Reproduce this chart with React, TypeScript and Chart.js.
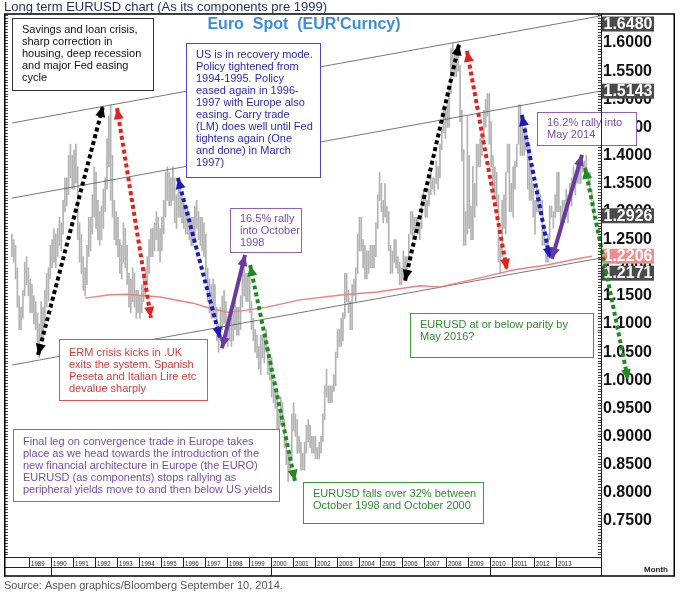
import { useEffect, useRef } from "react";
import { Chart, registerables } from "chart.js";

Chart.register(...registerables);

const FONT = '"Liberation Sans", Arial, Helvetica, sans-serif';

// monthly high/low bars, the first one is March 1988
const firstBarYear = 1988;
const firstBarMonth = 2;

const monthlyHigh = [
  /* 1988 */ 1.26, 1.25, 1.24, 1.2, 1.15, 1.13, 1.16, 1.21, 1.22, 1.2,
  /* 1989 */ 1.18, 1.17, 1.15, 1.14, 1.12, 1.1, 1.14, 1.13, 1.16, 1.19, 1.2, 1.24,
  /* 1990 */ 1.25, 1.27, 1.26, 1.27, 1.29, 1.28, 1.32, 1.36, 1.36, 1.4, 1.42, 1.4,
  /* 1991 */ 1.41, 1.42, 1.38, 1.28, 1.26, 1.22, 1.2, 1.24, 1.29, 1.29, 1.33, 1.38,
  /* 1992 */ 1.37, 1.32, 1.3, 1.31, 1.34, 1.36, 1.43, 1.47, 1.49, 1.4, 1.32, 1.3,
  /* 1993 */ 1.29, 1.25, 1.24, 1.28, 1.27, 1.24, 1.19, 1.18, 1.2, 1.19, 1.16, 1.16,
  /* 1994 */ 1.15, 1.17, 1.19, 1.2, 1.22, 1.25, 1.27, 1.27, 1.28, 1.3, 1.29, 1.27,
  /* 1995 */ 1.29, 1.32, 1.37, 1.38, 1.37, 1.36, 1.38, 1.36, 1.33, 1.35, 1.35, 1.33,
  /* 1996 */ 1.32, 1.31, 1.31, 1.3, 1.29, 1.29, 1.31, 1.32, 1.3, 1.29, 1.29, 1.28,
  /* 1997 */ 1.26, 1.2, 1.18, 1.17, 1.18, 1.17, 1.13, 1.1, 1.13, 1.15, 1.16, 1.14,
  /* 1998 */ 1.11, 1.11, 1.11, 1.12, 1.14, 1.13, 1.13, 1.15, 1.2, 1.22, 1.19, 1.19,
  /* 1999 */ 1.19, 1.14, 1.11, 1.09, 1.08, 1.06, 1.08, 1.08, 1.08, 1.09, 1.06, 1.04,
  /* 2000 */ 1.04, 1.0, 0.98, 0.98, 0.94, 0.97, 0.96, 0.93, 0.9, 0.87, 0.87, 0.94,
  /* 2001 */ 0.96, 0.94, 0.93, 0.9, 0.89, 0.87, 0.89, 0.92, 0.93, 0.92, 0.9, 0.9,
  /* 2002 */ 0.9, 0.88, 0.89, 0.9, 0.94, 0.99, 1.02, 0.99, 0.99, 0.99, 1.01, 1.05,
  /* 2003 */ 1.09, 1.09, 1.11, 1.12, 1.19, 1.19, 1.16, 1.14, 1.17, 1.18, 1.2, 1.26,
  /* 2004 */ 1.29, 1.29, 1.25, 1.24, 1.23, 1.23, 1.24, 1.24, 1.24, 1.28, 1.33, 1.37,
  /* 2005 */ 1.35, 1.32, 1.35, 1.31, 1.3, 1.24, 1.23, 1.25, 1.25, 1.22, 1.21, 1.2,
  /* 2006 */ 1.23, 1.22, 1.22, 1.26, 1.3, 1.3, 1.29, 1.29, 1.29, 1.28, 1.33, 1.34,
  /* 2007 */ 1.33, 1.32, 1.34, 1.37, 1.36, 1.36, 1.39, 1.38, 1.42, 1.45, 1.49, 1.48,
  /* 2008 */ 1.49, 1.52, 1.59, 1.6, 1.58, 1.58, 1.6, 1.56, 1.48, 1.41, 1.3, 1.47,
  /* 2009 */ 1.4, 1.31, 1.38, 1.35, 1.42, 1.42, 1.43, 1.44, 1.48, 1.5, 1.51, 1.51,
  /* 2010 */ 1.46, 1.4, 1.38, 1.37, 1.33, 1.24, 1.32, 1.33, 1.37, 1.42, 1.42, 1.35,
  /* 2011 */ 1.38, 1.39, 1.42, 1.49, 1.49, 1.46, 1.45, 1.45, 1.43, 1.42, 1.38, 1.35,
  /* 2012 */ 1.32, 1.35, 1.34, 1.33, 1.32, 1.27, 1.25, 1.26, 1.31, 1.31, 1.3, 1.33,
  /* 2013 */ 1.37, 1.37, 1.31, 1.32, 1.32, 1.34, 1.33, 1.35, 1.36, 1.38, 1.36, 1.39,
  /* 2014 */ 1.38, 1.38, 1.39, 1.39, 1.4, 1.37, 1.37, 1.34, 1.32,
];

const monthlyLow = [
  /* 1988 */ 1.22, 1.21, 1.18, 1.13, 1.09, 1.09, 1.11, 1.15, 1.17, 1.15,
  /* 1989 */ 1.12, 1.12, 1.1, 1.09, 1.06, 1.04, 1.07, 1.07, 1.1, 1.13, 1.14, 1.18,
  /* 1990 */ 1.2, 1.21, 1.2, 1.22, 1.24, 1.23, 1.26, 1.3, 1.31, 1.33, 1.36, 1.34,
  /* 1991 */ 1.34, 1.35, 1.25, 1.21, 1.19, 1.16, 1.15, 1.17, 1.22, 1.23, 1.26, 1.29,
  /* 1992 */ 1.27, 1.25, 1.24, 1.25, 1.27, 1.3, 1.34, 1.38, 1.32, 1.29, 1.25, 1.24,
  /* 1993 */ 1.22, 1.19, 1.18, 1.21, 1.2, 1.17, 1.13, 1.12, 1.14, 1.13, 1.11, 1.12,
  /* 1994 */ 1.11, 1.12, 1.14, 1.15, 1.17, 1.19, 1.22, 1.22, 1.23, 1.25, 1.23, 1.21,
  /* 1995 */ 1.23, 1.26, 1.29, 1.32, 1.31, 1.31, 1.32, 1.28, 1.27, 1.29, 1.29, 1.28,
  /* 1996 */ 1.27, 1.26, 1.26, 1.25, 1.24, 1.24, 1.25, 1.27, 1.25, 1.24, 1.23, 1.22,
  /* 1997 */ 1.18, 1.14, 1.12, 1.11, 1.12, 1.11, 1.07, 1.05, 1.07, 1.09, 1.1, 1.09,
  /* 1998 */ 1.06, 1.07, 1.06, 1.07, 1.09, 1.08, 1.08, 1.09, 1.13, 1.15, 1.14, 1.14,
  /* 1999 */ 1.12, 1.09, 1.07, 1.05, 1.04, 1.02, 1.01, 1.04, 1.03, 1.05, 1.01, 1.0,
  /* 2000 */ 0.97, 0.96, 0.95, 0.9, 0.89, 0.92, 0.92, 0.88, 0.85, 0.82, 0.84, 0.86,
  /* 2001 */ 0.91, 0.9, 0.87, 0.87, 0.84, 0.84, 0.84, 0.87, 0.89, 0.88, 0.87, 0.87,
  /* 2002 */ 0.86, 0.86, 0.86, 0.87, 0.89, 0.93, 0.97, 0.96, 0.96, 0.96, 0.98, 0.99,
  /* 2003 */ 1.04, 1.06, 1.06, 1.07, 1.11, 1.14, 1.12, 1.09, 1.09, 1.15, 1.14, 1.19,
  /* 2004 */ 1.23, 1.23, 1.2, 1.18, 1.18, 1.19, 1.2, 1.2, 1.2, 1.22, 1.27, 1.32,
  /* 2005 */ 1.3, 1.28, 1.29, 1.28, 1.23, 1.19, 1.19, 1.21, 1.2, 1.19, 1.17, 1.17,
  /* 2006 */ 1.18, 1.18, 1.19, 1.21, 1.26, 1.25, 1.25, 1.27, 1.26, 1.25, 1.27, 1.31,
  /* 2007 */ 1.29, 1.29, 1.31, 1.33, 1.34, 1.33, 1.35, 1.34, 1.36, 1.41, 1.44, 1.43,
  /* 2008 */ 1.45, 1.45, 1.51, 1.55, 1.54, 1.54, 1.55, 1.46, 1.39, 1.24, 1.24, 1.26,
  /* 2009 */ 1.27, 1.25, 1.25, 1.29, 1.31, 1.38, 1.38, 1.4, 1.42, 1.45, 1.47, 1.42,
  /* 2010 */ 1.38, 1.34, 1.33, 1.31, 1.21, 1.19, 1.22, 1.27, 1.26, 1.37, 1.3, 1.3,
  /* 2011 */ 1.29, 1.34, 1.38, 1.42, 1.4, 1.4, 1.4, 1.41, 1.34, 1.32, 1.32, 1.29,
  /* 2012 */ 1.26, 1.3, 1.3, 1.3, 1.24, 1.24, 1.21, 1.21, 1.25, 1.29, 1.27, 1.29,
  /* 2013 */ 1.3, 1.3, 1.28, 1.28, 1.28, 1.29, 1.28, 1.32, 1.31, 1.35, 1.33, 1.35,
  /* 2014 */ 1.35, 1.35, 1.37, 1.37, 1.36, 1.35, 1.34, 1.32, 1.29,
];

// long moving average (red line)
const maYears = [
  1991.54, 1992.68, 1993.45, 1994.96, 1996.46, 1997.23, 1998.01, 1998.6, 1999.83, 2001.33,
  2003.29, 2004.84, 2006.8, 2007.71, 2009.53, 2011.04, 2012.59, 2014.09, 2014.63,
];
const maValues = [
  1.146, 1.152, 1.153, 1.148, 1.137, 1.128, 1.121, 1.123, 1.13, 1.143,
  1.152, 1.157, 1.168, 1.166, 1.182, 1.196, 1.205, 1.217, 1.2206,
];

// trend channel: three parallel lines
const channelYears = [1988.21, 2015.0];
const channelTop = [1.4577, 1.648];
const channelMid = [1.324, 1.5143];
const channelLow = [1.027, 1.2171];

// double headed arrows [year, price]
const arrowFrom = [
  [1989.4, 1.045], [1993.0, 1.484], [1995.77, 1.36], [1997.78, 1.057], [1999.06, 1.205],
  [2006.12, 1.177], [2008.94, 1.586], [2011.44, 1.472], [2012.81, 1.216], [2014.32, 1.378],
];
const arrowTo = [
  [1992.36, 1.488], [1994.54, 1.111], [1997.69, 1.075], [1998.83, 1.223], [2001.1, 0.821],
  [2008.58, 1.598], [2010.76, 1.196], [2012.72, 1.216], [2014.18, 1.401], [2016.28, 1.0],
];

const priceTicks = [
  0.75, 0.8, 0.85, 0.9, 0.95, 1.0, 1.05, 1.1, 1.15, 1.2, 1.25, 1.3, 1.35, 1.4, 1.45, 1.5, 1.55, 1.6,
];
const tagValues = [1.648, 1.5143, 1.2926, 1.2206, 1.2171];

const yearLabels = [
  1989, 1990, 1991, 1992, 1993, 1994, 1995, 1996, 1997, 1998, 1999, 2000, 2001,
  2002, 2003, 2004, 2005, 2006, 2007, 2008, 2009, 2010, 2011, 2012, 2013,
];
const decadeMarks = [1990, 2000, 2010];

const noteTexts = [
  ["Savings and loan crisis,", "sharp correction in", "housing, deep recession", "and major Fed easing", "cycle"],
  [
    "US is in recovery mode.", "Policy tightened from", "1994-1995. Policy", "eased again in 1996-",
    "1997 with Europe also", "easing. Carry trade", "(LM) does well until Fed", "tightens again (One",
    "and done) in March", "1997)",
  ],
  ["16.2% rally into", "May 2014"],
  ["16.5% rally", "into October", "1998"],
  ["ERM crisis kicks in .UK", "exits the system. Spanish", "Peseta and Italian Lire etc", "devalue sharply"],
  [
    "Final leg on convergence trade in Europe takes",
    "place as we head towards the introduction of the",
    "new financial architecture in Europe (the EURO)",
    "EURUSD (as components) stops rallying as",
    "peripheral yields move to and then below US yields",
  ],
  ["EURUSD falls over 32% between", "October 1998 and October 2000"],
  ["EURUSD at or below parity by", "May 2016?"],
];

// styles
const arrowColors = [
  "#000000", "#e3221d", "#1c1cb8", "#6c3a9c", "#1f8a1f",
  "#000000", "#e3221d", "#1c1cb8", "#6c3a9c", "#1f8a1f",
];
const arrowDotted = [true, true, true, false, true, true, true, true, false, true];
const tagColors = ["#4a4a4a", "#4a4a4a", "#4a4a4a", "#f08c8c", "#4a4a4a"];
const tagNudge = [8, 0, 0, 0, 15];

const noteBoxes = [
  { x: 12, y: 18, w: 141, h: 72, top: 12, text: "#111111", border: "#333333" },
  { x: 186, y: 43, w: 134, h: 134, top: 12, text: "#2a2ab4", border: "#4848c0" },
  { x: 537, y: 112, w: 99, h: 33, top: 11, text: "#7a4ca4", border: "#8a66b0" },
  { x: 230, y: 208, w: 71, h: 44, top: 11, text: "#7a4ca4", border: "#8a66b0" },
  { x: 59, y: 339, w: 148, h: 61, top: 14, text: "#d43a3a", border: "#d65858" },
  { x: 13, y: 429, w: 266, h: 72, top: 13, text: "#7a4ca4", border: "#8a66b0" },
  { x: 303, y: 482, w: 180, h: 41, top: 12, text: "#2e8c2e", border: "#3d9a3d" },
  { x: 410, y: 313, w: 183, h: 44, top: 12, text: "#2e8c2e", border: "#3d9a3d" },
];

const chartDecor = {
  id: "chartDecor",
  beforeDraw(chart: Chart) {
    const { ctx, width, height } = chart;
    ctx.save();
    ctx.fillStyle = "#ffffff";
    ctx.fillRect(0, 0, width, height);
    ctx.restore();
  },
  beforeDatasetsDraw(chart: Chart) {
    const { ctx } = chart;
    const ys = chart.scales.y;
    ctx.save();
    ctx.font = `bold 16px ${FONT}`;
    ctx.textBaseline = "middle";
    ctx.textAlign = "left";
    tagValues.forEach((v, i) => {
      const cy = ys.getPixelForValue(v) + tagNudge[i];
      ctx.fillStyle = tagColors[i];
      ctx.fillRect(602, cy - 7.5, 52, 15);
      ctx.fillStyle = "#ffffff";
      ctx.fillText(v.toFixed(4), 603.5, cy + 0.5);
    });
    ctx.restore();
  },
  afterDatasetsDraw(chart: Chart) {
    const { ctx } = chart;
    const xs = chart.scales.x;
    const ys = chart.scales.y;
    ctx.save();
    arrowFrom.forEach((from, i) => {
      const a = { x: xs.getPixelForValue(from[0]), y: ys.getPixelForValue(from[1]) };
      const b = { x: xs.getPixelForValue(arrowTo[i][0]), y: ys.getPixelForValue(arrowTo[i][1]) };
      ctx.fillStyle = arrowColors[i];
      [
        [b, a],
        [a, b],
      ].forEach(([p, q]) => {
        const ang = Math.atan2(q.y - p.y, q.x - p.x);
        const len = 11;
        const half = 5;
        const bx = q.x - len * Math.cos(ang);
        const by = q.y - len * Math.sin(ang);
        ctx.beginPath();
        ctx.moveTo(q.x, q.y);
        ctx.lineTo(bx - half * Math.sin(ang), by + half * Math.cos(ang));
        ctx.lineTo(bx + half * Math.sin(ang), by - half * Math.cos(ang));
        ctx.closePath();
        ctx.fill();
      });
    });
    ctx.restore();
  },
  afterDraw(chart: Chart) {
    const { ctx, chartArea } = chart;
    const xs = chart.scales.x;
    const ys = chart.scales.y;
    ctx.save();

    // small ruler ticks on both price edges
    ctx.strokeStyle = "#444444";
    ctx.lineWidth = 1;
    for (let v = 0.69; v <= 1.65; v += 0.005) {
      const py = Math.round(ys.getPixelForValue(v)) + 0.5;
      ctx.beginPath();
      ctx.moveTo(chartArea.right - 2, py);
      ctx.lineTo(chartArea.right + 1, py);
      ctx.moveTo(5, py);
      ctx.lineTo(8, py);
      ctx.stroke();
    }

    // notes
    noteBoxes.forEach((n, i) => {
      ctx.fillStyle = "#ffffff";
      ctx.fillRect(n.x, n.y, n.w, n.h);
      ctx.strokeStyle = n.border;
      ctx.lineWidth = 1;
      ctx.strokeRect(n.x + 0.5, n.y + 0.5, n.w, n.h);
      ctx.fillStyle = n.text;
      ctx.font = `11px ${FONT}`;
      ctx.textBaseline = "middle";
      ctx.textAlign = "left";
      noteTexts[i].forEach((line, k) => ctx.fillText(line, n.x + 10, n.y + n.top + k * 12));
    });

    // chart title inside the frame
    ctx.fillStyle = "#3a8ddf";
    ctx.font = `bold 16px ${FONT}`;
    ctx.textAlign = "center";
    ctx.textBaseline = "middle";
    ctx.fillText("Euro  Spot  (EUR'Curncy)", 304, 25);

    // year strip
    const stripTop = chartArea.bottom;
    const stripMid = stripTop + 10;
    const frameBottom = 576;
    ctx.strokeStyle = "#222222";
    ctx.lineWidth = 1;
    ctx.beginPath();
    ctx.moveTo(5, stripTop + 0.5);
    ctx.lineTo(chartArea.right + 1, stripTop + 0.5);
    ctx.moveTo(5, stripMid + 0.5);
    ctx.lineTo(chartArea.right + 1, stripMid + 0.5);
    ctx.moveTo(chartArea.right + 1.5, 14);
    ctx.lineTo(chartArea.right + 1.5, frameBottom);
    ctx.stroke();

    ctx.fillStyle = "#222222";
    ctx.textAlign = "left";
    ctx.textBaseline = "alphabetic";
    ctx.font = `8px ${FONT}`;
    yearLabels.forEach((yr) => {
      const px = Math.round(xs.getPixelForValue(yr)) + 0.5;
      ctx.beginPath();
      ctx.moveTo(px, stripTop);
      ctx.lineTo(px, stripMid);
      ctx.stroke();
      ctx.save();
      ctx.translate(px + 1.5, stripTop + 8.5);
      ctx.scale(0.76, 1);
      ctx.fillText(String(yr), 0, 0);
      ctx.restore();
    });
    decadeMarks.forEach((yr) => {
      const px = Math.round(xs.getPixelForValue(yr)) + 0.5;
      ctx.beginPath();
      ctx.moveTo(px, stripMid);
      ctx.lineTo(px, frameBottom);
      ctx.stroke();
    });
    ctx.font = `bold 8px ${FONT}`;
    ctx.textAlign = "right";
    ctx.fillText("Month", 668, 572);

    // outer frame
    ctx.strokeStyle = "#000000";
    ctx.lineWidth = 1.5;
    ctx.strokeRect(4.75, 14, 669.5, frameBottom - 14);

    // page texts
    ctx.textAlign = "left";
    ctx.fillStyle = "#1d2f5e";
    ctx.font = `13px ${FONT}`;
    ctx.fillText("Long term EURUSD chart (As its components pre 1999)", 4, 11);
    ctx.fillStyle = "#555555";
    ctx.font = `11px ${FONT}`;
    ctx.fillText("Source: Aspen graphics/Bloomberg September 10, 2014.", 4, 589);
    ctx.restore();
  },
};

const App = () => {
  const chartRef = useRef<Chart | null>(null);
  const chartCanvas = useRef<HTMLCanvasElement | null>(null);

  useEffect(() => {
    if (chartRef.current) {
      chartRef.current.destroy();
    }
    const context = chartCanvas.current?.getContext("2d");
    if (!context) return;

    const bars = monthlyHigh.map((h, i) => ({
      x: firstBarYear + (firstBarMonth + i + 0.5) / 12,
      y: [monthlyLow[i], h],
    }));
    const channel = (vals: number[]) => channelYears.map((t, i) => ({ x: t, y: vals[i] }));

    const datasets: any[] = [
      {
        type: "bar",
        data: bars,
        backgroundColor: "#b2b2b2",
        borderWidth: 0,
        barThickness: 1,
        grouped: false,
        order: 4,
      },
      ...[channelTop, channelMid, channelLow].map((vals) => ({
        type: "line",
        data: channel(vals),
        borderColor: "#555555",
        borderWidth: 0.8,
        pointRadius: 0,
        order: 3,
      })),
      {
        type: "line",
        data: maYears.map((t, i) => ({ x: t, y: maValues[i] })),
        borderColor: "#ee8282",
        borderWidth: 1.4,
        pointRadius: 0,
        order: 2,
      },
      ...arrowFrom.map((from, i) => ({
        type: "line",
        data: [
          { x: from[0], y: from[1] },
          { x: arrowTo[i][0], y: arrowTo[i][1] },
        ],
        borderColor: arrowColors[i],
        borderWidth: 4,
        borderDash: arrowDotted[i] ? [4, 3] : [],
        borderCapStyle: "butt",
        pointRadius: 0,
        clip: false,
        order: 0,
      })),
    ];

    chartRef.current = new Chart(context, {
      type: "line",
      data: { datasets },
      options: {
        animation: false,
        responsive: true,
        maintainAspectRatio: false,
        events: [],
        layout: { padding: { left: 6, top: 14, right: 6, bottom: 36 } },
        plugins: {
          legend: { display: false },
          tooltip: { enabled: false },
        },
        scales: {
          x: { type: "linear", min: 1987.94, max: 2015.0, display: false, offset: false },
          y: {
            type: "linear",
            position: "right",
            min: 0.6854,
            max: 1.6516,
            grid: { display: false, drawTicks: false },
            border: { display: false },
            afterBuildTicks: (scale: any) => {
              scale.ticks = priceTicks.map((v) => ({ value: v }));
            },
            afterFit: (scale: any) => {
              scale.width = 74;
            },
            ticks: {
              padding: 3,
              color: "#111111",
              font: { family: FONT, size: 16, weight: "bold" },
              callback: (v: any) => Number(v).toFixed(4),
            },
          },
        },
      },
      plugins: [chartDecor as any],
    });

    return () => {
      if (chartRef.current) {
        chartRef.current.destroy();
        chartRef.current = null;
      }
    };
  }, []);

  return (
    <div style={{ position: "absolute", left: 0, top: 0, width: 680, height: 593, background: "#ffffff" }}>
      <canvas ref={chartCanvas}></canvas>
    </div>
  );
};

export default App;
